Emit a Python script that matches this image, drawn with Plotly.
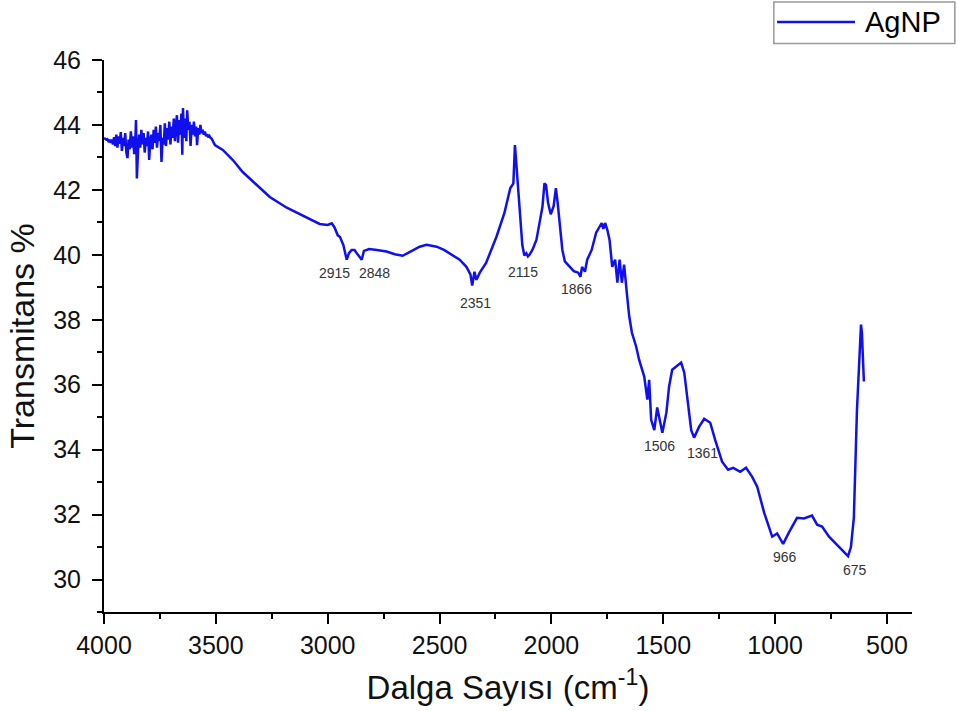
import plotly.graph_objects as go

# Wavenumber (cm-1) and transmittance (%)
wavenumber = [
    4000, 3995, 3990, 3985, 3980, 3975, 3970, 3965, 3960, 3955, 3950, 3945, 3940, 3935, 3930,
    3925, 3920, 3915, 3910, 3905, 3900, 3895, 3890, 3885, 3880, 3875, 3870, 3865, 3860, 3857,
    3853, 3848, 3843, 3838, 3833, 3828, 3823, 3818, 3813, 3808, 3803, 3798, 3793, 3788, 3783,
    3778, 3773, 3768, 3763, 3758, 3753, 3748, 3743, 3738, 3733, 3728, 3723, 3718, 3713, 3708,
    3703, 3698, 3693, 3688, 3683, 3678, 3674, 3669, 3664, 3659, 3654, 3650, 3647, 3642, 3637,
    3632, 3628, 3623, 3618, 3613, 3608, 3603, 3598, 3593, 3588, 3584, 3579, 3574, 3569, 3564,
    3559, 3554, 3549, 3544, 3539, 3534, 3529, 3524, 3519,
    3504, 3469, 3424, 3380, 3317, 3259, 3183, 3125, 3080, 3036, 3000, 2982, 2970, 2955, 2945,
    2930, 2915, 2905, 2893, 2880, 2870, 2848, 2838, 2815, 2780, 2737, 2700, 2665, 2630, 2589,
    2558, 2513, 2480, 2442, 2410, 2380, 2362, 2354, 2344, 2335, 2320, 2292, 2246, 2210, 2184,
    2170, 2163, 2160, 2150, 2140, 2130, 2121, 2112, 2105, 2098, 2085, 2067, 2050, 2040, 2031,
    2024, 2015, 2003, 1990, 1980, 1972, 1960, 1951, 1940, 1915, 1900, 1880, 1870, 1863, 1850,
    1840, 1820, 1800, 1785, 1775, 1768, 1760, 1750, 1740, 1728, 1715, 1705, 1695, 1685, 1675,
    1661, 1652, 1640, 1621, 1608, 1585, 1571, 1563, 1554, 1540, 1527, 1504, 1486, 1474, 1460,
    1442, 1420, 1406, 1393, 1375, 1362, 1340, 1317, 1290, 1268, 1237, 1210, 1187, 1156, 1130,
    1103, 1080, 1049, 1013, 991, 964, 938, 902, 871, 835, 812, 790, 759, 714, 683,
    674, 661, 648, 634, 621, 616, 612, 606, 603,
]
transmittance = [
    43.60, 43.58, 43.55, 43.56, 43.50, 43.52, 43.45, 43.55, 43.40, 43.62, 43.35, 43.70, 43.30, 43.65, 43.42,
    43.78, 43.20, 43.60, 43.35, 43.75, 43.15, 42.98, 43.55, 43.25, 43.80, 43.30, 43.65, 43.10, 43.50, 44.15,
    42.35, 43.20, 43.70, 43.30, 43.85, 43.40, 43.75, 43.15, 43.60, 43.35, 43.80, 42.92, 43.55, 43.70, 43.25,
    43.85, 43.45, 43.95, 43.30, 43.75, 43.50, 44.00, 42.86, 43.60, 43.40, 44.05, 43.35, 43.90, 43.55, 44.10,
    43.40, 43.95, 43.60, 44.20, 43.50, 44.00, 44.30, 43.45, 44.15, 43.70, 44.35, 43.08, 44.52, 43.60, 44.20,
    43.50, 44.45, 43.85, 44.10, 43.35, 44.00, 43.70, 44.10, 43.65, 43.95, 43.38, 43.90, 43.70, 44.00, 43.75,
    43.85, 43.70, 43.80, 43.65, 43.72, 43.62, 43.66, 43.60, 43.58,
    43.38, 43.23, 42.92, 42.55, 42.15, 41.78, 41.45, 41.25, 41.10, 40.95, 40.92, 40.97, 40.85, 40.60, 40.55,
    40.30, 39.85, 40.05, 40.15, 40.15, 40.05, 39.85, 40.12, 40.18, 40.15, 40.10, 40.02, 39.97, 40.10, 40.25,
    40.31, 40.25, 40.15, 40.00, 39.85, 39.63, 39.40, 39.05, 39.48, 39.23, 39.45, 39.75, 40.55, 41.29, 42.05,
    42.20, 43.38, 43.10, 42.20, 41.00, 40.30, 39.98, 40.05, 39.95, 40.00, 40.15, 40.46, 41.10, 41.48, 42.20,
    42.15, 41.60, 41.25, 41.50, 42.05, 41.60, 40.70, 40.15, 39.80, 39.60, 39.50, 39.45, 39.32, 39.63, 39.48,
    39.85, 40.15, 40.68, 40.85, 40.98, 40.80, 40.98, 40.77, 40.46, 39.63, 39.85, 39.14, 39.85, 39.14, 39.70,
    38.70, 38.10, 37.60, 37.17, 36.77, 36.25, 35.54, 36.15, 34.92, 34.60, 35.30, 34.52, 35.14, 35.94, 36.46,
    36.55, 36.68, 36.37, 35.54, 34.60, 34.37, 34.70, 34.95, 34.83, 34.30, 33.63, 33.38, 33.44, 33.32, 33.44,
    33.17, 32.86, 32.06, 31.32, 31.42, 31.10, 31.45, 31.90, 31.88, 31.97, 31.69, 31.63, 31.32, 31.00, 30.77,
    30.72, 31.00, 31.90, 35.23, 37.50, 37.85, 37.60, 36.20, 36.10,
]

series_name = "AgNP"

# Peak labels: text, label x (cm-1), label y (%)
peak_labels = ["2915", "2848", "2351", "2115", "1866", "1506", "1361", "966", "675"]
peak_label_x = [2969, 2790, 2339, 2125, 1888, 1518, 1326, 956, 643]
peak_label_y = [39.45, 39.45, 38.52, 39.46, 38.95, 34.12, 33.90, 30.68, 30.28]

x_ticks = [4000, 3500, 3000, 2500, 2000, 1500, 1000, 500]
y_ticks = [30, 32, 34, 36, 38, 40, 42, 44, 46]

FONT = "Liberation Sans, Arial, sans-serif"
LINE_COLOR = "#1010EE"

fig = go.Figure()
fig.add_trace(go.Scatter(
    x=wavenumber, y=transmittance, mode="lines", name=series_name,
    line=dict(color=LINE_COLOR, width=2.5), showlegend=False,
))

for t, x, y in zip(peak_labels, peak_label_x, peak_label_y):
    fig.add_annotation(x=x, y=y, text=t, showarrow=False,
                       font=dict(family=FONT, size=14, color="#333333"))

# Legend box drawn in the top-right margin (paper coordinates)
fig.add_shape(type="rect", xref="paper", yref="paper",
              x0=0.829, x1=1.053, y0=1.030, y1=1.105,
              line=dict(color="#999999", width=1.5), fillcolor="white", layer="above")
fig.add_shape(type="line", xref="paper", yref="paper",
              x0=0.833, x1=0.9295, y0=1.0688, y1=1.0688,
              line=dict(color=LINE_COLOR, width=2.5), layer="above")
fig.add_annotation(xref="paper", yref="paper", x=0.9394, y=1.0688,
                   xanchor="left", yanchor="middle", text=series_name, showarrow=False,
                   font=dict(family=FONT, size=29, color="black"))

axis_common = dict(
    showline=True, linecolor="black", linewidth=2, mirror=False,
    ticks="outside", ticklen=10, tickwidth=2, tickcolor="black",
    showgrid=False, zeroline=False,
    tickfont=dict(family=FONT, size=25, color="#111111"),
)

fig.update_layout(
    width=957, height=711,
    margin=dict(l=104, r=45, t=60, b=99, autoexpand=False),
    paper_bgcolor="white", plot_bgcolor="white",
    showlegend=False,
    xaxis=dict(
        range=[4000, 388], tickvals=x_ticks,
        minor=dict(ticks="outside", ticklen=5, tickwidth=2, tickcolor="black", dtick=250),
        title=dict(text="Dalga Sayısı (cm<sup>-1</sup>)", font=dict(family=FONT, size=33, color="#111111"), standoff=18),
        **axis_common,
    ),
    yaxis=dict(
        range=[29, 46], tickvals=y_ticks, ticklabelstandoff=6,
        minor=dict(ticks="outside", ticklen=5, tickwidth=2, tickcolor="black", dtick=1),
        title=dict(text="Transmitans %", font=dict(family=FONT, size=34, color="#111111"), standoff=8),
        **axis_common,
    ),
)

fig.write_html("out.html", post_script="document.body.style.margin='0';",
               config={"displayModeBar": False})
